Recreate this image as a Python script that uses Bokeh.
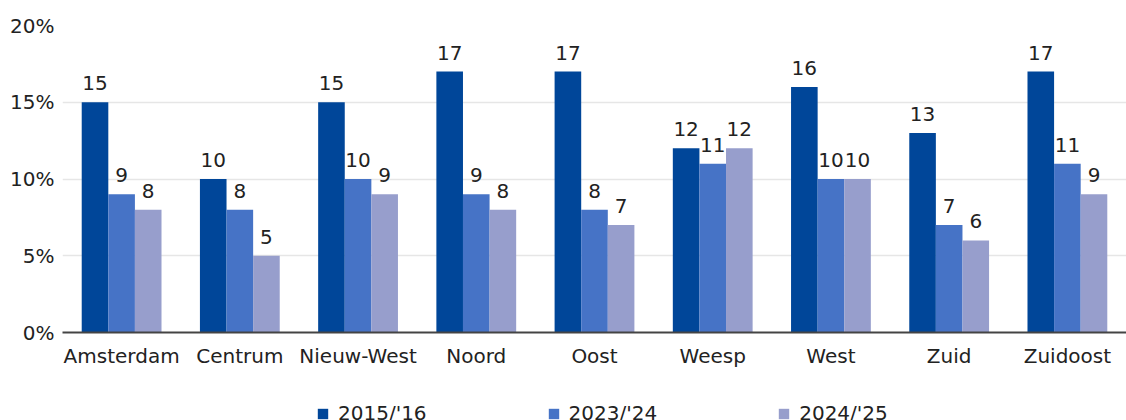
from bokeh.plotting import figure
from bokeh.layouts import column
from bokeh.models import ColumnDataSource, FixedTicker, Legend, LegendItem
from bokeh.transform import dodge
from bokeh.core.properties import value
from bokeh.embed import file_html
from bokeh.resources import INLINE

categories = ["Amsterdam", "Centrum", "Nieuw-West", "Noord", "Oost", "Weesp", "West", "Zuid", "Zuidoost"]
series_names = ["2015/'16", "2023/'24", "2024/'25"]
v2015 = [15, 10, 15, 17, 17, 12, 16, 13, 17]
v2023 = [9, 8, 10, 9, 8, 11, 10, 7, 11]
v2024 = [8, 5, 9, 8, 7, 12, 10, 6, 9]
colors = ["#004699", "#4673c6", "#979ecc"]
y_ticks = [0, 5, 10, 15, 20]
y_tick_labels = ["0%", "5%", "10%", "15%", "20%"]

FONT = "DejaVu Sans"
TXT = "#222222"

src = ColumnDataSource(dict(cat=categories, a=v2015, b=v2023, c=v2024,
                            la=[str(v) for v in v2015],
                            lb=[str(v) for v in v2023],
                            lc=[str(v) for v in v2024]))

p = figure(x_range=categories, y_range=(0, 20), width=1126, height=385,
           output_backend="svg", toolbar_location=None,
           min_border_left=62, min_border_right=0, min_border_top=25, min_border_bottom=53)
p.outline_line_color = None

bw = 0.225
for key, lab, off, col in [("a", "la", -bw, colors[0]), ("b", "lb", 0, colors[1]), ("c", "lc", bw, colors[2])]:
    p.vbar(x=dodge("cat", off, range=p.x_range), top=key, width=bw, source=src,
           fill_color=col, line_color=None)
    p.text(x=dodge("cat", off, range=p.x_range), y=key, text=lab, source=src,
           text_align="center", text_baseline="bottom", y_offset=-12,
           text_font=value(FONT), text_font_size="20px", text_color=TXT)

p.yaxis.ticker = FixedTicker(ticks=y_ticks)
p.yaxis.major_label_overrides = {t: l for t, l in zip(y_ticks, y_tick_labels)}
p.yaxis.axis_line_color = None
p.yaxis.major_tick_line_color = None
p.yaxis.minor_tick_line_color = None
p.yaxis.major_label_text_font = FONT
p.yaxis.major_label_text_font_size = "20px"
p.yaxis.major_label_text_color = TXT
p.yaxis.major_label_standoff = 2

p.xaxis.axis_line_color = "#444444"
p.xaxis.axis_line_width = 2
p.xaxis.major_tick_line_color = None
p.xaxis.minor_tick_line_color = None
p.xaxis.major_label_text_font = FONT
p.xaxis.major_label_text_font_size = "20px"
p.xaxis.major_label_text_color = TXT
p.xaxis.major_label_standoff = 5

p.xgrid.grid_line_color = None
p.ygrid.grid_line_color = "#e6e6e6"
p.ygrid.grid_line_width = 1.5

# legend strip below the chart (swatch renderers are zero-height bars, so nothing shows)
lf = figure(width=1126, height=35, x_range=(0, 1), y_range=(0, 1),
            output_backend="svg", toolbar_location=None,
            x_axis_type=None, y_axis_type=None,
            min_border_left=0, min_border_right=0, min_border_top=0, min_border_bottom=0)
lf.outline_line_color = None
lf.xgrid.grid_line_color = None
lf.ygrid.grid_line_color = None
legend_renderers = [lf.vbar(x=[0.5], top=[0.5], bottom=[0.5], width=0.1, fill_color=c, line_color=None)
                    for c in colors]
legend = Legend(items=[LegendItem(label=n, renderers=[r]) for n, r in zip(series_names, legend_renderers)],
                orientation="horizontal", location=(254, -5),
                glyph_width=13, glyph_height=13, label_standoff=9, spacing=120,
                label_text_font=FONT, label_text_font_size="20px", label_text_color=TXT,
                border_line_color=None, background_fill_alpha=0, padding=2, margin=0)
lf.add_layout(legend, "center")

layout = column(p, lf, spacing=0)
open("out.html", "w").write(file_html(layout, INLINE))
